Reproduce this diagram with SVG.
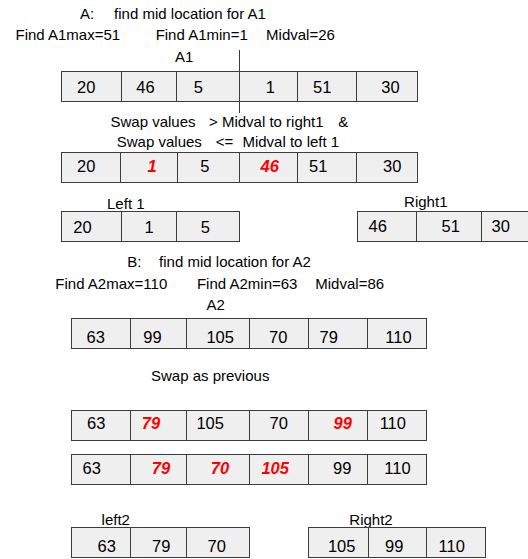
<svg xmlns="http://www.w3.org/2000/svg" width="528" height="559" viewBox="0 0 528 559">
<style>
text{font-family:"Liberation Sans",Arial,sans-serif;fill:#000}
.h{font-size:15px}
.c{font-size:16.5px;text-anchor:middle}
.m{text-anchor:middle}
.r{fill:#ff0000;font-weight:bold;font-style:italic}
.box{fill:#efefef;stroke:#3c3c3c;stroke-width:1}
.div{stroke:#3c3c3c;stroke-width:1}
</style>
<rect width="528" height="559" fill="#ffffff"/>
<g id="headerA">
<text class="h" x="80" y="18.5">A:</text>
<text class="h m" x="190" y="18.5">find mid location for A1</text>
<text class="h m" x="67.8" y="39.5">Find A1max=51</text>
<text class="h m" x="201.7" y="39.5">Find A1min=1</text>
<text class="h m" x="300.5" y="39.5">Midval=26</text>
</g>
<g id="A1">
<text class="h m" x="184.2" y="61.5">A1</text>
<rect class="box" x="61.5" y="71.5" width="356" height="30"/>
<path class="div" d="M121.5 71.5V101.5M176.5 71.5V101.5M239.5 71.5V101.5M297.5 71.5V101.5M356.5 71.5V101.5"/>
<text class="c" x="86.3" y="93">20</text>
<text class="c" x="145.5" y="93">46</text>
<text class="c" x="198.3" y="93">5</text>
<text class="c" x="270.3" y="93">1</text>
<text class="c" x="322.2" y="93">51</text>
<text class="c" x="390.5" y="93">30</text>
</g>
<g id="connectors">
<line class="div" x1="239.5" y1="50" x2="239.5" y2="113"/>
</g>
<g id="swapText">
<text class="h m" x="153" y="126.5">Swap values</text>
<text class="h m" x="266.3" y="126.5">&gt; Midval to right1</text>
<text class="h m" x="343.3" y="126.5">&amp;</text>
<text class="h m" x="159.3" y="146.5">Swap values</text>
<text class="h m" x="224.5" y="146.5">&lt;=</text>
<text class="h m" x="290.8" y="146.5">Midval to left 1</text>
</g>
<g id="A1swapped">
<rect class="box" x="61.5" y="152.5" width="356" height="30"/>
<path class="div" d="M120.5 152.5V182.5M177.5 152.5V182.5M239.5 152.5V182.5M297.5 152.5V182.5M356.5 152.5V182.5"/>
<text class="c" x="86.3" y="171.5">20</text>
<text class="c r" x="152" y="171.5">1</text>
<text class="c" x="204.8" y="171.5">5</text>
<text class="c r" x="269.7" y="171.5">46</text>
<text class="c" x="318.3" y="171.5">51</text>
<text class="c" x="392.2" y="171.5">30</text>
</g>
<g id="Left1">
<text class="h m" x="125.8" y="208.5">Left 1</text>
<rect class="box" x="61.5" y="211.5" width="178" height="30"/>
<path class="div" d="M121.5 211.5V241.5M176.5 211.5V241.5"/>
<text class="c" x="82.5" y="232.5">20</text>
<text class="c" x="149.2" y="232.5">1</text>
<text class="c" x="205.3" y="232.5">5</text>
</g>
<g id="Right1">
<text class="h m" x="425.8" y="207">Right1</text>
<rect class="box" x="357.5" y="211.5" width="180" height="30"/>
<path class="div" d="M416.5 211.5V241.5M481.5 211.5V241.5"/>
<text class="c" x="377.8" y="232">46</text>
<text class="c" x="450.8" y="232">51</text>
<text class="c" x="500.8" y="232">30</text>
</g>
<g id="headerB">
<text class="h" x="127.3" y="266.7">B:</text>
<text class="h m" x="235" y="266.7">find mid location for A2</text>
<text class="h m" x="111.3" y="288.5">Find A2max=110</text>
<text class="h m" x="247.2" y="288.5">Find A2min=63</text>
<text class="h m" x="349.7" y="288.5">Midval=86</text>
</g>
<g id="A2">
<text class="h m" x="215.8" y="310">A2</text>
<rect class="box" x="71.5" y="318.5" width="355" height="30"/>
<path class="div" d="M130.5 318.5V348.5M186.5 318.5V348.5M249.5 318.5V348.5M308.5 318.5V348.5M367.5 318.5V348.5"/>
<text class="c" x="95.8" y="343">63</text>
<text class="c" x="152.5" y="343">99</text>
<text class="c" x="220.2" y="343">105</text>
<text class="c" x="278.3" y="343">70</text>
<text class="c" x="328.7" y="343">79</text>
<text class="c" x="398.5" y="343">110</text>
</g>
<g id="swapPrev">
<text class="h m" x="210.2" y="380.7">Swap as previous</text>
</g>
<g id="A2step1">
<rect class="box" x="71.5" y="410.5" width="355" height="30"/>
<path class="div" d="M130.5 410.5V440.5M186.5 410.5V440.5M249.5 410.5V440.5M308.5 410.5V440.5M367.5 410.5V440.5"/>
<text class="c" x="96.3" y="428.5">63</text>
<text class="c r" x="151" y="428.5">79</text>
<text class="c" x="210.2" y="428.5">105</text>
<text class="c" x="278.7" y="428.5">70</text>
<text class="c r" x="342.8" y="428.5">99</text>
<text class="c" x="392.8" y="428.5">110</text>
</g>
<g id="A2step2">
<rect class="box" x="71.5" y="454.5" width="355" height="30"/>
<path class="div" d="M130.5 454.5V484.5M186.5 454.5V484.5M249.5 454.5V484.5M308.5 454.5V484.5M367.5 454.5V484.5"/>
<text class="c" x="91.7" y="473.5">63</text>
<text class="c r" x="161" y="473.5">79</text>
<text class="c r" x="220" y="473.5">70</text>
<text class="c r" x="275.2" y="473.5">105</text>
<text class="c" x="342.2" y="473.5">99</text>
<text class="c" x="397.5" y="473.5">110</text>
</g>
<g id="left2">
<text class="h m" x="115.8" y="525">left2</text>
<rect class="box" x="71.5" y="527.5" width="178" height="30"/>
<path class="div" d="M130.5 527.5V557.5M186.5 527.5V557.5"/>
<text class="c" x="106.7" y="551.5">63</text>
<text class="c" x="161.2" y="551.5">79</text>
<text class="c" x="216.7" y="551.5">70</text>
</g>
<g id="Right2">
<text class="h m" x="371" y="525">Right2</text>
<rect class="box" x="308.5" y="527.5" width="177" height="30"/>
<path class="div" d="M368.5 527.5V557.5M426.5 527.5V557.5"/>
<text class="c" x="341.7" y="551.5">105</text>
<text class="c" x="394.2" y="551.5">99</text>
<text class="c" x="451.7" y="551.5">110</text>
</g>
</svg>
